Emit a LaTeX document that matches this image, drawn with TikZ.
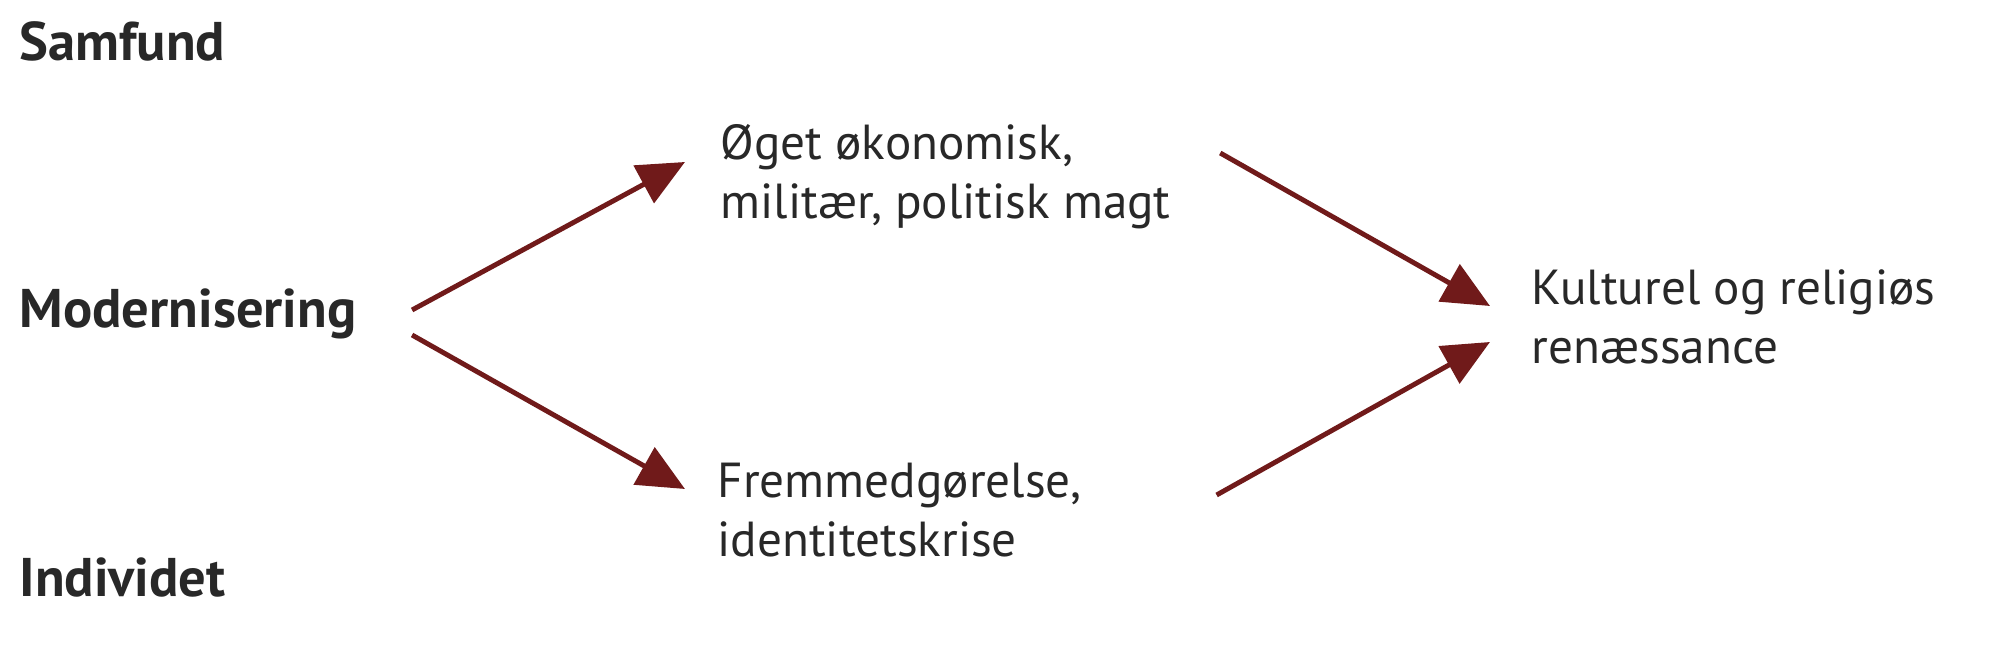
\documentclass[tikz,border=0pt]{standalone}
\usepackage{fontspec}
\setmainfont{PT Sans}
\usetikzlibrary{arrows.meta}

\definecolor{arrowred}{RGB}{112,26,26}
\definecolor{textgray}{RGB}{40,40,40}

\tikzset{
  label text/.style={inner sep=0pt, anchor=base west, text=textgray, font=\fontsize{15.5pt}{18pt}\selectfont\bfseries},
  box text/.style={inner sep=0pt, anchor=base west, align=left, text=textgray, font=\fontsize{14pt}{16.8pt}\selectfont},
  trend/.style={arrowred, line width=1.4pt, -{Triangle[length=4.7mm, width=4.2mm]}}
}

\begin{document}
\begin{tikzpicture}
        \useasboundingbox (0,0) rectangle (20,6.58);

        \node[label text] (samfund) at (0.19, 5.97) {Samfund};
        \node[label text] (modern) at (0.19, 3.30) {Modernisering};
        \node[label text] (individ) at (0.19, 0.61) {Individet};

        % base = baseline of the last line
        \node[box text] (magt) at (7.20, 4.39) {Øget økonomisk,\\militær, politisk magt};
        \node[box text] (krise) at (7.17, 1.01) {Fremmedgørelse,\\identitetskrise};
        \node[box text] (renaes) at (15.31, 2.94) {Kulturel og religiøs\\renæssance};

        \draw[trend] ([shift={(0.55,0.18)}]modern.base east) -- ([shift={(-0.35,0.57)}]magt.base west);
        \draw[trend] ([shift={(0.55,-0.07)}]modern.base east) -- ([shift={(-0.32,0.68)}]krise.base west);
        \draw[trend] ([shift={(0.49,0.66)}]magt.base east) -- ([shift={(-0.41,0.58)}]renaes.base west);
        \draw[trend] ([shift={(1.34,0.62)}]krise.base east) -- ([shift={(-0.41,0.22)}]renaes.base west);
\end{tikzpicture}
\end{document}
